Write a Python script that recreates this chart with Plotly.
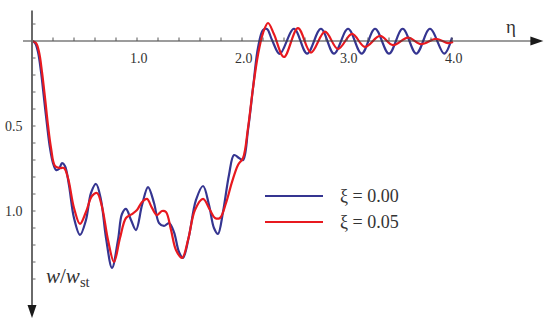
import plotly.graph_objects as go

# values (eta, w/w_st positive downwards)
eta_xi0 = [0.0, 0.029, 0.057, 0.086, 0.114, 0.143, 0.171, 0.2, 0.229, 0.257, 0.286, 0.314, 0.352, 0.4,
           0.457, 0.514, 0.562, 0.61, 0.657, 0.705, 0.762, 0.819, 0.857, 0.895, 0.943, 0.99, 1.048,
           1.105, 1.162, 1.21, 1.257, 1.305, 1.352, 1.4, 1.438, 1.495, 1.562, 1.629, 1.686, 1.733,
           1.771, 1.819, 1.876, 1.924, 1.971, 2.01, 2.057, 2.105, 2.152, 2.2, 2.238, 2.286,
           2.36, 2.495, 2.62, 2.752, 2.876, 3.01, 3.14, 3.267, 3.40, 3.53, 3.66, 3.79, 3.925, 4.0]
w_xi0 = [0.0, 0.012, 0.065, 0.182, 0.335, 0.494, 0.629, 0.718, 0.759, 0.753, 0.718, 0.735, 0.847, 1.041,
         1.141, 1.053, 0.894, 0.841, 0.935, 1.159, 1.335, 1.171, 1.018, 0.988, 1.053, 1.112, 0.965,
         0.859, 0.953, 1.071, 1.088, 1.071, 1.124, 1.241, 1.276, 1.147, 0.935, 0.853, 0.965, 1.1,
         1.135, 1.006, 0.788, 0.671, 0.688, 0.7, 0.524, 0.276, 0.041, -0.065, -0.071, -0.006,
         0.076, -0.072, 0.074, -0.072, 0.074, -0.072, 0.074, -0.072, 0.074, -0.072, 0.074, -0.072, 0.074, -0.02]

eta_xi5 = [0.0, 0.038, 0.067, 0.095, 0.124, 0.152, 0.181, 0.219, 0.267, 0.305, 0.343, 0.4, 0.457,
           0.514, 0.571, 0.619, 0.667, 0.724, 0.781, 0.838, 0.895, 0.952, 1.0, 1.048, 1.095, 1.143,
           1.19, 1.238, 1.276, 1.324, 1.371, 1.429, 1.486, 1.552, 1.629, 1.695, 1.743, 1.79, 1.848,
           1.905, 1.962, 2.01, 2.057, 2.105, 2.152, 2.2, 2.248, 2.305,
           2.4, 2.533, 2.657, 2.79, 2.914, 3.048, 3.171, 3.314, 3.438, 3.581, 3.705, 3.848, 3.962, 4.01]
w_xi5 = [0.0, 0.012, 0.065, 0.182, 0.335, 0.494, 0.629, 0.735, 0.747, 0.747, 0.806, 0.982, 1.076,
         1.006, 0.912, 0.894, 0.976, 1.171, 1.3, 1.159, 1.041, 1.018, 0.994, 0.947, 0.929, 0.982,
         1.024, 1.0, 1.006, 1.112, 1.229, 1.276, 1.171, 0.994, 0.929, 0.994, 1.041, 1.041, 0.953,
         0.829, 0.729, 0.688, 0.512, 0.276, 0.082, -0.047, -0.106, -0.04,
         0.094, -0.076, 0.068, -0.055, 0.047, -0.042, 0.035, -0.03, 0.024, -0.02, 0.018, -0.013, 0.012, 0.006]

series_names = ["ξ = 0.00", "ξ = 0.05"]
series_colors = ["#353591", "#e8191f"]

x_minor_ticks = [0.2, 0.4, 0.6, 0.8, 1.0, 1.2, 1.4, 1.6, 1.8, 2.0, 2.2, 2.4, 2.6, 2.8, 3.0,
                 3.2, 3.4, 3.6, 3.8, 4.0]
x_tick_labels = [1.0, 2.0, 3.0, 4.0]
y_minor_ticks = [-0.1, 0.1, 0.2, 0.3, 0.4, 0.5, 0.6, 0.7, 0.8, 0.9, 1.0, 1.1, 1.2, 1.3, 1.4]
y_tick_labels = [0.5, 1.0]

W, H = 550, 330
# pixel placement of the origin and scale, used only for the axis ranges
x0_px, x_scale = 32, 105
y0_px, y_scale = 41, 170
kx, ky = 1 / x_scale, 1 / y_scale   # one pixel in data units

serif = "Liberation Serif"
x_end, y_top, y_end = 4.87, -0.18, 1.63

fig = go.Figure()
for eta, w, name, col in [(eta_xi0, w_xi0, series_names[0], series_colors[0]),
                          (eta_xi5, w_xi5, series_names[1], series_colors[1])]:
    fig.add_trace(go.Scatter(x=eta, y=w, mode="lines", name=name, showlegend=False,
                             line=dict(color=col, width=2.2, shape="spline", smoothing=1.0)))

shapes = []
# axes and arrow heads
shapes.append(dict(type="line", xref="x", yref="y", x0=-9 * kx, x1=x_end - 8 * kx, y0=0, y1=0,
                   line=dict(color="#3a3a3a", width=1.2)))
shapes.append(dict(type="path", xref="x", yref="y", line=dict(width=0), fillcolor="#1a1a1a",
                   path=f"M {x_end} 0 L {x_end - 13 * kx} {-4.5 * ky} L {x_end - 13 * kx} {4.5 * ky} Z"))
shapes.append(dict(type="line", xref="x", yref="y", x0=0, x1=0, y0=y_top, y1=y_end - 8 * ky,
                   line=dict(color="#6a6a6a", width=2)))
shapes.append(dict(type="path", xref="x", yref="y", line=dict(width=0), fillcolor="#1a1a1a",
                   path=f"M 0 {y_end} L {-4.5 * kx} {y_end - 13 * ky} L {4.5 * kx} {y_end - 13 * ky} Z"))
# axis ticks
for t in x_minor_ticks:
    shapes.append(dict(type="line", xref="x", yref="y", x0=t, x1=t, y0=0, y1=-3.5 * ky,
                       line=dict(color="#555555", width=1)))
for t in y_minor_ticks:
    shapes.append(dict(type="line", xref="x", yref="y", x0=0, x1=3.5 * kx, y0=t, y1=t,
                       line=dict(color="#666666", width=1)))

# legend lines
for i, col in enumerate(series_colors):
    py = 196 + 26 * i
    shapes.append(dict(type="line", xref="paper", yref="paper", x0=265 / W, x1=323 / W,
                       y0=1 - py / H, y1=1 - py / H, line=dict(color=col, width=2)))

annotations = []
for t in x_tick_labels:
    annotations.append(dict(x=t + 0.02, y=0.1, xref="x", yref="y", text=f"{t:.1f}", showarrow=False,
                            font=dict(family=serif, size=14, color="#333333")))
for t in y_tick_labels:
    annotations.append(dict(x=-0.07, y=t, xref="x", yref="y", text=f"{t:.1f}", showarrow=False,
                            xanchor="right", font=dict(family=serif, size=14, color="#333333")))
annotations.append(dict(x=518 / W, y=1 - 14 / H, xref="paper", yref="paper", text="η",
                        showarrow=False, font=dict(family=serif, size=19, color="#333333")))
annotations.append(dict(x=44 / W, y=1 - 292 / H, xref="paper", yref="paper", xanchor="left",
                        text="<i>w</i>/<i>w</i><sub>st</sub>", showarrow=False,
                        font=dict(family=serif, size=21, color="#333333")))
for i, name in enumerate(series_names):
    py = 196 + 26 * i
    annotations.append(dict(x=338 / W, y=1 - py / H, xref="paper", yref="paper", xanchor="left",
                            yanchor="middle", text=name, showarrow=False,
                            font=dict(family=serif, size=18, color="#333333")))

fig.update_layout(
    width=W, height=H,
    margin=dict(l=0, r=0, t=0, b=0),
    paper_bgcolor="white", plot_bgcolor="white",
    xaxis=dict(visible=False, range=[-x0_px / x_scale, (W - x0_px) / x_scale]),
    yaxis=dict(visible=False, range=[(H - y0_px) / y_scale, -y0_px / y_scale]),
    shapes=shapes,
    annotations=annotations,
)

# drop the page's default body margin so the figure sits at the window's corner
fig.write_html("out.html", config={"displayModeBar": False},
               post_script="document.body.style.margin='0';")
